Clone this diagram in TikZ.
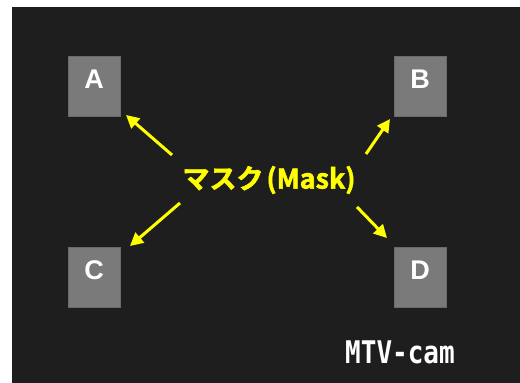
\documentclass[tikz,border=0pt]{standalone}
\usepackage{fontspec}
\setmainfont{Liberation Sans}
\newfontfamily\jpfont{Noto Sans CJK JP Bold}[FakeBold=2]
\newfontfamily\camfont{DejaVu Sans Mono}
\usetikzlibrary{arrows.meta}
\definecolor{screen}{HTML}{1E1E1E}
\definecolor{maskgray}{HTML}{7A7A7A}
\definecolor{maskedge}{HTML}{6A6A6A}
\definecolor{maskyellow}{HTML}{FFFF00}
\tikzset{
  maskbox/.style={draw=maskedge, line width=0.8pt, fill=maskgray,
    minimum width=52pt, minimum height=60pt, inner sep=0pt},
  maskletter/.style={text=white, font=\bfseries\fontsize{27}{27}\selectfont, inner sep=0pt},
  masklabel/.style={text=maskyellow, font=\jpfont\fontsize{27}{27}\selectfont, inner sep=0pt},
  pointer/.style={draw=maskyellow, line width=3pt,
    -{Triangle[length=13pt,width=13pt]}},
  camtext/.style={text=white, font=\camfont\bfseries\fontsize{26}{26}\selectfont, inner sep=0pt}
}
\begin{document}
\begin{tikzpicture}[x=1pt,y=-1pt]
  \useasboundingbox (0,0) rectangle (520,383);
  \fill[white] (0,0) rectangle (520,383);
  \fill[screen] (12,7) rectangle (520,383);

  % four masked regions
  \node[maskbox] (A) at (94,86) {};
  \node[maskbox] (B) at (420,86) {};
  \node[maskbox] (C) at (94,277) {};
  \node[maskbox] (D) at (420,277) {};
  \node[maskletter] (lA) at ([yshift=-24pt]A.north) {A};
  \node[maskletter] (lB) at ([yshift=-24pt]B.north) {B};
  \node[maskletter] (lC) at ([yshift=-24pt]C.north) {C};
  \node[maskletter] (lD) at ([yshift=-24pt]D.north) {D};

  % central label
  \node[masklabel] (mask) at (269,180) {マスク\kern3pt(Mask)};

  % arrow ends
  \coordinate (sA) at (172,155);
  \coordinate (tA) at (126,115);
  \coordinate (sB) at (366,154);
  \coordinate (tB) at (390,119);
  \coordinate (sC) at (180,203);
  \coordinate (tC) at (130,246);
  \coordinate (sD) at (357,207);
  \coordinate (tD) at (387,238);
  \draw[pointer] (sA) -- (tA);
  \draw[pointer] (sB) -- (tB);
  \draw[pointer] (sC) -- (tC);
  \draw[pointer] (sD) -- (tD);

  % camera caption
  \node[camtext] (cam) at (400,352) {\scalebox{1}[1.2]{MTV-cam}};
\end{tikzpicture}
\end{document}
